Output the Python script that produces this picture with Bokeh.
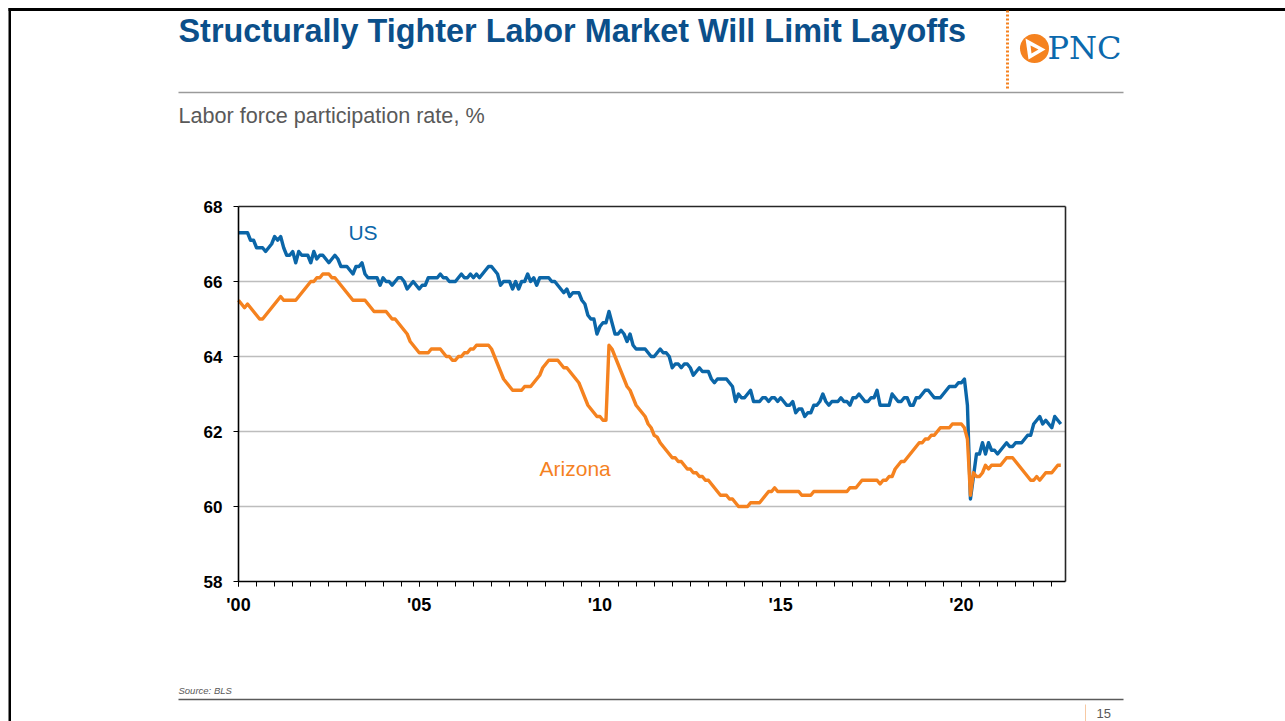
import numpy as np
from bokeh.plotting import figure
from bokeh.models import FixedTicker, Range1d
from bokeh.core.properties import value
from bokeh.embed import file_html
from bokeh.resources import INLINE

# ---------------- data ----------------
title_text = "Structurally Tighter Labor Market Will Limit Layoffs"
subtitle_text = "Labor force participation rate, %"
source_text = "Source: BLS"
page_number = "15"
logo_text = "PNC"
series_names = ["US", "Arizona"]

start_year = 2000  # monthly data, Jan 2000 - Oct 2022

us_lfpr = [
    67.3, 67.3, 67.3, 67.3, 67.1, 67.1, 66.9, 66.9, 66.9, 66.8, 66.9, 67.0,  # 2000
    67.2, 67.1, 67.2, 66.9, 66.7, 66.7, 66.8, 66.5, 66.8, 66.7, 66.7, 66.7,  # 2001
    66.5, 66.8, 66.6, 66.7, 66.7, 66.6, 66.5, 66.6, 66.7, 66.6, 66.4, 66.4,  # 2002
    66.4, 66.3, 66.2, 66.4, 66.4, 66.5, 66.2, 66.1, 66.1, 66.1, 66.1, 65.9,  # 2003
    66.1, 66.0, 66.0, 65.9, 66.0, 66.1, 66.1, 66.0, 65.8, 65.9, 66.0, 65.9,  # 2004
    65.8, 65.9, 65.9, 66.1, 66.1, 66.1, 66.1, 66.2, 66.1, 66.1, 66.0, 66.0,  # 2005
    66.0, 66.1, 66.2, 66.1, 66.1, 66.2, 66.1, 66.2, 66.1, 66.2, 66.3, 66.4,  # 2006
    66.4, 66.3, 66.2, 65.9, 66.0, 66.0, 66.0, 65.8, 66.0, 65.8, 66.0, 66.0,  # 2007
    66.2, 66.0, 66.1, 65.9, 66.1, 66.1, 66.1, 66.1, 66.0, 66.0, 65.9, 65.8,  # 2008
    65.7, 65.8, 65.6, 65.7, 65.7, 65.7, 65.5, 65.4, 65.1, 65.0, 65.0, 64.6,  # 2009
    64.8, 64.9, 64.9, 65.2, 64.9, 64.6, 64.6, 64.7, 64.6, 64.4, 64.6, 64.3,  # 2010
    64.2, 64.2, 64.2, 64.2, 64.1, 64.0, 64.0, 64.1, 64.2, 64.1, 64.1, 64.0,  # 2011
    63.7, 63.8, 63.8, 63.7, 63.8, 63.8, 63.7, 63.5, 63.6, 63.7, 63.6, 63.6,  # 2012
    63.6, 63.4, 63.3, 63.4, 63.4, 63.4, 63.4, 63.3, 63.2, 62.8, 63.0, 62.9,  # 2013
    62.9, 63.0, 63.1, 62.8, 62.8, 62.8, 62.9, 62.9, 62.8, 62.9, 62.9, 62.8,  # 2014
    62.9, 62.8, 62.7, 62.7, 62.8, 62.5, 62.6, 62.6, 62.4, 62.5, 62.5, 62.7,  # 2015
    62.7, 62.8, 63.0, 62.8, 62.7, 62.8, 62.8, 62.8, 62.9, 62.8, 62.8, 62.7,  # 2016
    62.9, 62.9, 63.0, 62.9, 62.8, 62.8, 62.9, 62.9, 63.1, 62.7, 62.7, 62.7,  # 2017
    62.7, 63.0, 62.9, 62.8, 62.8, 62.9, 62.9, 62.7, 62.7, 62.9, 62.9, 63.0,  # 2018
    63.1, 63.1, 63.0, 62.9, 62.9, 62.9, 63.0, 63.1, 63.2, 63.2, 63.2, 63.3,  # 2019
    63.3, 63.4, 62.7, 60.2, 60.8, 61.4, 61.4, 61.7, 61.4, 61.7, 61.5, 61.5,  # 2020
    61.4, 61.5, 61.6, 61.7, 61.6, 61.6, 61.7, 61.7, 61.7, 61.8, 61.9, 61.9,  # 2021
    62.2, 62.3, 62.4, 62.2, 62.3, 62.2, 62.1, 62.4, 62.3, 62.2,              # 2022
]

az_lfpr = [
    65.5, 65.4, 65.3, 65.4, 65.3, 65.2, 65.1, 65.0, 65.0, 65.1, 65.2, 65.3,  # 2000
    65.4, 65.5, 65.6, 65.5, 65.5, 65.5, 65.5, 65.5, 65.6, 65.7, 65.8, 65.9,  # 2001
    66.0, 66.0, 66.1, 66.1, 66.2, 66.2, 66.2, 66.1, 66.1, 66.0, 65.9, 65.8,  # 2002
    65.7, 65.6, 65.5, 65.5, 65.5, 65.5, 65.5, 65.4, 65.3, 65.2, 65.2, 65.2,  # 2003
    65.2, 65.2, 65.1, 65.0, 65.0, 64.9, 64.8, 64.7, 64.6, 64.4, 64.3, 64.2,  # 2004
    64.1, 64.1, 64.1, 64.1, 64.2, 64.2, 64.2, 64.2, 64.1, 64.0, 64.0, 63.9,  # 2005
    63.9, 64.0, 64.0, 64.1, 64.1, 64.2, 64.2, 64.3, 64.3, 64.3, 64.3, 64.3,  # 2006
    64.2, 64.0, 63.8, 63.6, 63.4, 63.3, 63.2, 63.1, 63.1, 63.1, 63.1, 63.2,  # 2007
    63.2, 63.2, 63.3, 63.4, 63.5, 63.7, 63.8, 63.9, 63.9, 63.9, 63.9, 63.8,  # 2008
    63.7, 63.7, 63.6, 63.5, 63.4, 63.3, 63.1, 62.9, 62.7, 62.6, 62.5, 62.4,  # 2009
    62.4, 62.3, 62.3, 64.3, 64.2, 64.0, 63.8, 63.6, 63.4, 63.2, 63.1, 62.9,  # 2010
    62.7, 62.6, 62.5, 62.4, 62.2, 62.1, 61.9, 61.85, 61.7, 61.6, 61.5, 61.4, # 2011
    61.3, 61.3, 61.2, 61.2, 61.1, 61.0, 61.0, 60.9, 60.9, 60.8, 60.8, 60.7,  # 2012
    60.7, 60.6, 60.5, 60.4, 60.3, 60.3, 60.3, 60.2, 60.2, 60.1, 60.0, 60.0,  # 2013
    60.0, 60.0, 60.1, 60.1, 60.1, 60.1, 60.2, 60.3, 60.4, 60.4, 60.5, 60.4,  # 2014
    60.4, 60.4, 60.4, 60.4, 60.4, 60.4, 60.4, 60.3, 60.3, 60.3, 60.3, 60.4,  # 2015
    60.4, 60.4, 60.4, 60.4, 60.4, 60.4, 60.4, 60.4, 60.4, 60.4, 60.4, 60.5,  # 2016
    60.5, 60.5, 60.6, 60.7, 60.7, 60.7, 60.7, 60.7, 60.7, 60.6, 60.7, 60.7,  # 2017
    60.8, 60.8, 61.0, 61.1, 61.2, 61.2, 61.3, 61.4, 61.5, 61.6, 61.7, 61.7,  # 2018
    61.8, 61.8, 61.9, 61.9, 62.0, 62.1, 62.1, 62.1, 62.1, 62.2, 62.2, 62.2,  # 2019
    62.2, 62.1, 61.8, 60.3, 60.9, 60.8, 60.8, 60.9, 61.1, 61.0, 61.1, 61.1,  # 2020
    61.1, 61.1, 61.2, 61.3, 61.3, 61.3, 61.2, 61.1, 61.0, 60.9, 60.8, 60.7,  # 2021
    60.7, 60.8, 60.7, 60.8, 60.9, 60.9, 60.9, 61.0, 61.1, 61.1,              # 2022
]

x_tick_years = [2000, 2005, 2010, 2015, 2020]
x_tick_labels = ["'00", "'05", "'10", "'15", "'20"]
y_ticks = [58, 60, 62, 64, 66, 68]
grid_values = [60, 62, 64, 66]

# ---------------- geometry (page pixels) ----------------
W, H = 1285, 721
FL, FR, FT, FB = 238, 1065, 206, 581     # chart area edges on the page
X0, X1 = 2000.0, 2022.88                 # chart x extent (years)
Y0, Y1 = 58.0, 68.0                      # chart y extent (%)
ppx = (FR - FL) / (X1 - X0)
ppy = (FB - FT) / (Y1 - Y0)

US_COLOR = "#0b66a8"
AZ_COLOR = "#f5821f"
TITLE_COLOR = "#0b4f8a"
FONT = "Liberation Sans"

p = figure(width=W, height=H, output_backend="svg", toolbar_location=None,
           x_range=Range1d(X0 - FL / ppx, X0 + (W - FL) / ppx),
           y_range=Range1d(Y0 - (H - FB) / ppy, Y1 + FT / ppy),
           min_border=0)
p.title.text = ""
p.title.visible = False
p.background_fill_color = "white"
p.border_fill_color = "white"
p.outline_line_color = None
p.xgrid.visible = False
p.ygrid.visible = False

# pixel ranges for page decoration (y grows downward)
p.extra_x_ranges = {"px": Range1d(0, W)}
p.extra_y_ranges = {"py": Range1d(H, 0)}
PX = dict(x_range_name="px", y_range_name="py")

# ---------------- chart ----------------
# grid lines and frame (top/right)
p.segment(x0=[X0] * len(grid_values), x1=[X1] * len(grid_values), y0=grid_values, y1=grid_values,
          line_color="#bdbdbd", line_width=1.3)
p.segment(x0=[X0, X1], x1=[X1, X1], y0=[Y1, Y0], y1=[Y1, Y1], line_color="#262626", line_width=1.6)

months = np.arange(len(us_lfpr))
x_vals = start_year + months / 12.0
p.line(x_vals, us_lfpr, line_color=US_COLOR, line_width=3.4, line_join="round")
p.line(x_vals[:len(az_lfpr)], az_lfpr, line_color=AZ_COLOR, line_width=3.4, line_join="round")

# axes placed on the chart area
p.xaxis.fixed_location = Y0
p.xaxis.bounds = (X0, X1)
p.yaxis.fixed_location = X0
p.yaxis.bounds = (Y0, Y1)
p.xaxis.ticker = FixedTicker(ticks=x_tick_years,
                             minor_ticks=list(np.arange(2000.0, 2023.0, 0.5)))
p.xaxis.major_label_overrides = {k: v for k, v in zip(x_tick_years, x_tick_labels)}
p.yaxis.ticker = FixedTicker(ticks=y_ticks, minor_ticks=[])
for ax in (p.xaxis[0], p.yaxis[0]):
    ax.axis_line_color = "black"
    ax.axis_line_width = 1.6
    ax.major_tick_line_color = "black"
    ax.minor_tick_line_color = "black"
    ax.major_tick_in = 0
    ax.major_tick_out = 5
    ax.minor_tick_in = 0
    ax.minor_tick_out = 5
    ax.major_label_text_font = FONT
    ax.major_label_text_font_style = "bold"
    ax.major_label_text_color = "black"
p.xaxis.major_label_text_font_size = "18px"
p.yaxis.major_label_text_font_size = "17px"
p.yaxis.minor_tick_line_color = None
p.xaxis.major_label_standoff = 8
p.yaxis.major_label_standoff = 11

# series labels (data coordinates)
p.text(x=[2003.04], y=[67.31], text=[series_names[0]], text_font=value(FONT),
       text_font_size="21px", text_color=US_COLOR, text_baseline="alphabetic")
p.text(x=[2008.33], y=[61.01], text=[series_names[1]], text_font=value(FONT),
       text_font_size="21px", text_color=AZ_COLOR, text_baseline="alphabetic")

# ---------------- page decoration ----------------
# slide frame (top and left)
p.quad(left=[8, 8], right=[W, 10.5], top=[7.5, 7.5], bottom=[10.5, H],
       fill_color="black", line_color=None, **PX)

p.text(x=[178], y=[30], text=[title_text], text_font=value(FONT), text_font_style="bold",
       text_font_size="32.4px", text_color=TITLE_COLOR, text_baseline="alphabetic", **PX)
p.text(x=[178], y=[115], text=[subtitle_text], text_font=value(FONT),
       text_font_size="21.6px", text_color="#595959", text_baseline="alphabetic", **PX)

# rules
p.segment(x0=[178, 178], x1=[1123, 1123], y0=[92, 699], y1=[92, 699],
          line_color=["#9a9a9a", "#5a5a5a"], line_width=1.5, **PX)
# dotted orange divider
p.segment(x0=[1007], x1=[1007], y0=[10], y1=[89], line_color=AZ_COLOR, line_width=3,
          line_dash="2 2", **PX)
# small divider near the page number
p.segment(x0=[1085], x1=[1085], y0=[704], y1=[721], line_color="#f7c9a3", line_width=1, **PX)

# PNC logo
p.scatter(x=[1034], y=[48], size=29, marker="circle", fill_color=AZ_COLOR, line_color=None, **PX)
p.patch(x=[1025, 1045, 1028], y=[38, 49, 59], fill_color="white", line_color=None, **PX)
p.patch(x=[1030, 1038, 1031], y=[45, 49, 53], fill_color=AZ_COLOR, line_color=None, **PX)
p.text(x=[1047], y=[47], text=[logo_text], text_font=value("DejaVu Serif"),
       text_font_size="32px", text_color="#0b69ad", text_baseline="alphabetic", **PX)

p.text(x=[178], y=[690], text=[source_text], text_font=value(FONT), text_font_style="italic",
       text_font_size="9.5px", text_color="#595959", text_baseline="alphabetic", **PX)
p.text(x=[1096], y=[713], text=[page_number], text_font=value(FONT),
       text_font_size="13px", text_color="#595959", text_baseline="alphabetic", **PX)

open("out.html", "w").write(file_html(p, INLINE))
